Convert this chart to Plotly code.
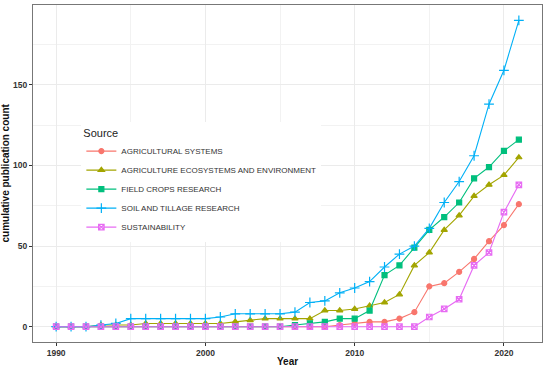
import plotly.graph_objects as go

years = list(range(1990, 2022))

agricultural_systems = [0]*19 + [1, 2, 3, 3, 5, 9, 25, 27, 34, 42, 53, 63, 76]
agri_ecosystems = [0, 0, 0, 1, 1, 1, 2, 2, 2, 2, 2, 2, 3, 4, 5, 5, 5, 5,
                   10, 10, 11, 13, 15, 20, 38, 46, 60, 69, 81, 88, 94, 105]
field_crops = [0]*16 + [1, 2, 3, 5, 5, 10, 32, 38, 49, 60, 68, 77, 92, 99, 109, 116]
soil_tillage = [0, 0, 0, 1, 2, 5, 5, 5, 5, 5, 5, 6, 8, 8, 8, 8, 9,
                15, 16, 21, 24, 28, 37, 45, 50, 61, 77, 90, 106, 138, 159, 190]
sustainability = [0]*25 + [6, 11, 17, 38, 46, 71, 88]

series_names = ["AGRICULTURAL SYSTEMS", "AGRICULTURE ECOSYSTEMS AND ENVIRONMENT",
                "FIELD CROPS RESEARCH", "SOIL AND TILLAGE RESEARCH", "SUSTAINABILITY"]
series_values = [agricultural_systems, agri_ecosystems, field_crops, soil_tillage, sustainability]
colors = ["#F8766D", "#A3A500", "#00BF7D", "#00B0F6", "#E76BF3"]
symbols = ["circle", "triangle-up", "square", "cross-thin-open", "square-x-open"]
sizes = [5, 5.5, 5, 7, 5.5]

fig = go.Figure()
for name, vals, c, s, sz in zip(series_names, series_values, colors, symbols, sizes):
    fig.add_trace(go.Scatter(
        x=years, y=vals, name=name, mode="lines+markers",
        line=dict(color=c, width=1.1),
        marker=dict(symbol=s, size=sz, color=c, line=dict(color=c, width=1.2)),
    ))

fig.update_layout(
    width=550, height=369,
    margin=dict(l=33, r=8, t=5, b=27, autoexpand=False),
    paper_bgcolor="white", plot_bgcolor="white",
    font=dict(family="Liberation Sans, Arial, sans-serif", color="#222"),
    legend=dict(
        x=0.095, y=0.652, xanchor="left", yanchor="top",
        bgcolor="white",
        title=dict(text="Source", font=dict(size=11, color="#222")),
        font=dict(size=8, color="#333"),
        itemwidth=30,
    ),
    xaxis=dict(
        range=[1988.45, 2022.55], tickmode="linear", tick0=1990, dtick=10,
        tickfont=dict(size=8.5, weight="bold", color="#333"),
        ticks="outside", ticklen=3, tickcolor="#333",
        showgrid=True, gridcolor="#EBEBEB", gridwidth=1,
        minor=dict(dtick=5, tick0=1990, showgrid=True, gridcolor="#F2F2F2", gridwidth=0.6),
        showline=True, mirror=True, linecolor="#777", linewidth=1.2,
        zeroline=False, automargin=False,
    ),
    yaxis=dict(
        range=[-9.5, 199.5], tickmode="linear", tick0=0, dtick=50,
        tickfont=dict(size=8.5, weight="bold", color="#333"),
        ticks="outside", ticklen=3, tickcolor="#333",
        showgrid=True, gridcolor="#EBEBEB", gridwidth=1,
        minor=dict(dtick=25, tick0=0, showgrid=True, gridcolor="#F2F2F2", gridwidth=0.6),
        showline=True, mirror=True, linecolor="#777", linewidth=1.2,
        zeroline=False, automargin=False,
    ),
    annotations=[
        dict(text="<b>Year</b>", xref="paper", yref="paper", x=0.5, y=-0.0593,
             xanchor="center", yanchor="middle", showarrow=False,
             font=dict(size=10, color="#111")),
        dict(text="<b>cumulative publication count</b>", xref="paper", yref="paper",
             x=-0.055, y=0.5, xanchor="center", yanchor="middle", textangle=-90,
             showarrow=False, font=dict(size=10, color="#111")),
    ],
)

fig.write_html("out.html", config={"displayModeBar": False},
               post_script="document.body.style.margin='0px';document.body.style.overflow='hidden';")
